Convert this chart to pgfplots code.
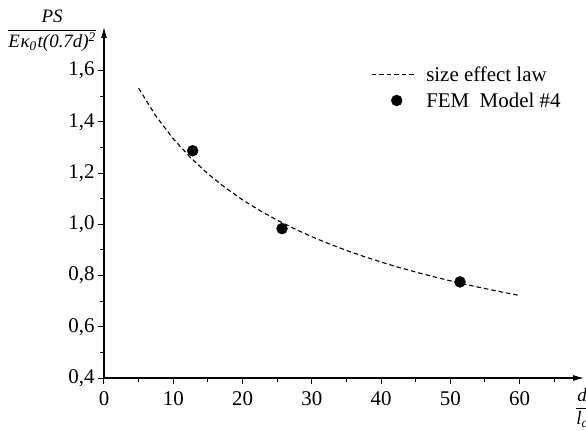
\documentclass[border=0pt]{standalone}
\usepackage{fontspec}
\setmainfont{Liberation Serif}
\usepackage{amsmath}
\usepackage{pgfplots}
\pgfplotsset{compat=1.18}
\usetikzlibrary{arrows.meta}
\begin{document}
\begin{tikzpicture}
\path[use as bounding box] (-104bp,-53bp) rectangle (482bp,378bp);
\begin{axis}[
  at={(0,0)}, anchor=south west,
  scale only axis, width=480bp, height=351bp,
  xmin=0, xmax=69.3, ymin=0.4, ymax=1.77,
  axis lines=left,
  axis line style={line width=1.1bp, -{Latex[length=11bp,width=6bp]}},
  xtick={0,10,20,30,40,50,60},
  minor xtick={5,15,25,35,45,55,65},
  ytick={0.4,0.6,0.8,1.0,1.2,1.4,1.6},
  minor ytick={0.5,0.7,0.9,1.1,1.3,1.5},
  tick align=outside,
  major tick length=6bp, minor tick length=4bp,
  every tick/.style={black, line width=1bp},
  /pgf/number format/assume math mode=true,
  ticklabel style={font=\fontsize{21}{24}\selectfont},
  yticklabel style={/pgf/number format/.cd, fixed, fixed zerofill, precision=1, use comma},
  xticklabel style={yshift=-4bp, /pgf/number format/.cd, fixed, precision=0},
  clip=false,
  legend style={draw=none, fill=none, font=\fontsize{21}{24}\selectfont,
    legend cell align=left, at={(rel axis cs:0.55,0.90)}, anchor=north west,
    row sep=6bp},
]
\addplot[black, line width=1.1bp, dash pattern=on 4.5bp off 3bp,
  legend image code/.code={\draw[black, line width=1.1bp, dash pattern=on 4.5bp off 3bp] (0bp,0bp) -- (42bp,0bp);
  \path (52bp,0bp);}]
  coordinates {
  (5,1.531) (7.5,1.4223) (10,1.3338) (12.5,1.2600) (15,1.1972) (17.5,1.1430)
  (20,1.0955) (22.5,1.0535) (25,1.0160) (27.5,0.9822) (30,0.9516) (32.5,0.9237)
  (35,0.8980) (37.5,0.8745) (40,0.8527) (42.5,0.8324) (45,0.8135) (47.5,0.7958)
  (50,0.7793) (52.5,0.7637) (55,0.7491) (57.5,0.7352) (60,0.7221)};
\addlegendentry{size effect law}
\addplot[only marks, mark=*, mark size=5.5bp, black,
  legend image code/.code={\fill[black] (25bp,0bp) circle (5.5bp); \path (0bp,0bp) (52bp,0bp);}]
  coordinates {(12.8,1.287) (25.7,0.983) (51.4,0.775)};
\addlegendentry{FEM\ \ Model \#4}
\node[font=\fontsize{19}{21}\selectfont] at (axis description cs:-0.108,0.989)
  {$\dfrac{\text{\itshape PS}}{\text{\itshape E\kern0.5pt κ\textsubscript{0}\kern1pt t(0.7d)\textsuperscript{2}}}$};
\node[font=\fontsize{19}{21}\selectfont] at (axis description cs:0.996,-0.085)
  {$\dfrac{\text{\itshape d}}{\text{\itshape l\textsubscript{c}}}$};
\end{axis}
\end{tikzpicture}
\end{document}
